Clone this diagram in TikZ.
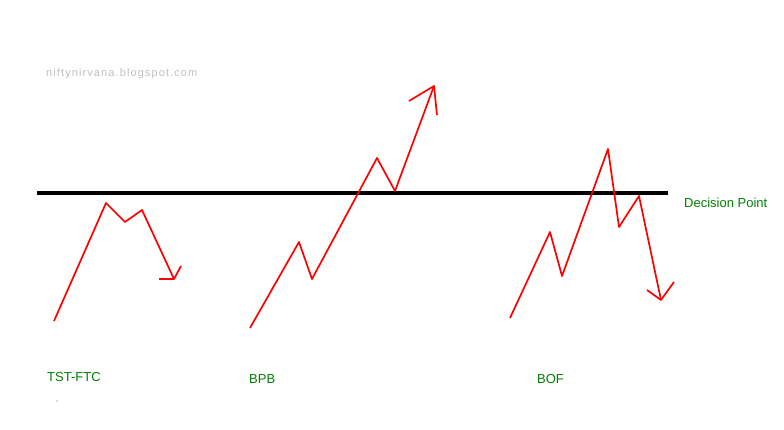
\documentclass[tikz,border=0pt]{standalone}
\usepackage{fontspec}
\setmainfont{Liberation Sans}
\newfontfamily\sitefont[LetterSpace=10]{Liberation Sans}
\begin{document}
\begin{tikzpicture}[x=1pt, y=-1pt, font=\fontsize{13}{15}\selectfont,
  move/.style={red, line width=1.7pt, line join=round},
  lbl/.style={text=green!50!black, anchor=west, inner sep=0pt}]
			\useasboundingbox (0,0) rectangle (784,430);
			% decision line
			\draw[line width=3.6pt] (37,193)--(668,193);
			\node[lbl] (dp) at (684,203) {Decision Point};
			\node[lbl, text=black!25, font=\sitefont\fontsize{11}{13}\selectfont] (site) at (46,74) {niftynirvana.blogspot.com};
			% TST-FTC
			\draw[move] (54,321)--(106,203)--(125,222)--(142,210)--(174,279) coordinate (t);
			\draw[move] (159,279)--(t)--(181,266);
			\node[lbl] (tst) at (47,377) {TST-FTC};
			\fill[black!60] (57,401) circle (0.6pt);
			% BPB
			\draw[move] (250,328)--(299,242)--(312,279)--(377,158)--(395,191)--(434,86) coordinate (b);
			\draw[move] (409,101)--(b)--(437,115);
			\node[lbl] (bpb) at (249,379) {BPB};
			% BOF
			\draw[move] (510,318)--(550,232)--(562,276)--(608,149)--(619,227)--(639,196)--(661,300) coordinate (f);
			\draw[move] (647,290)--(f)--(674,282);
			\node[lbl] (bof) at (537,379) {BOF};
		\end{tikzpicture}
\end{document}
